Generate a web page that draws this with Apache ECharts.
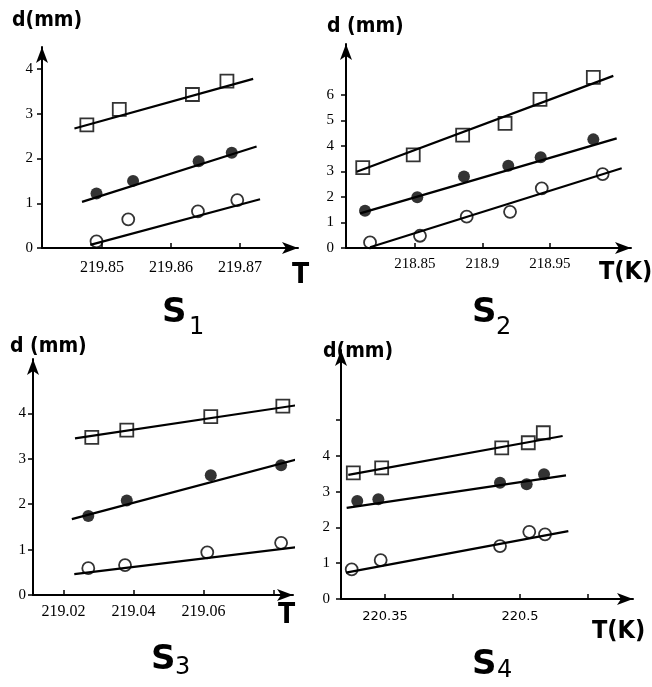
<!DOCTYPE html>
<html>
<head>
<meta charset="utf-8">
<script src="https://cdn.jsdelivr.net/npm/echarts@6.0.0/dist/echarts.min.js"></script>
<style>
  html, body { margin: 0; background: #fff; }
  #main { width: 652px; height: 687px; }
</style>
</head>
<body>
<div id="main"></div>
<script>
// values: [T (K), d (mm)]
// S1
const s1Squares = [[219.8478, 2.75], [219.8525, 3.10], [219.8631, 3.43], [219.8681, 3.73]]
const s1Filled = [[219.8492, 1.22], [219.8545, 1.50], [219.8640, 1.94], [219.8688, 2.13]]
const s1Open = [[219.8492, 0.15], [219.8538, 0.64], [219.8639, 0.82], [219.8696, 1.07]]
const s1SquareFit = [[219.8460, 2.67], [219.8719, 3.78]]
const s1FilledFit = [[219.8471, 1.03], [219.8724, 2.27]]
const s1OpenFit = [[219.8483, 0.07], [219.8729, 1.09]]
const s1TTicks = ['219.85', '219.86', '219.87']
const s1TLabels = ['219.85', '219.86', '219.87']
const s1DTicks = ['0', '1', '2', '3', '4']
const s1DLabels = ['0', '1', '2', '3', '4']

// S2
const s2Squares = [[218.8113, 3.15], [218.8487, 3.65], [218.8853, 4.43], [218.9167, 4.89], [218.9426, 5.83], [218.9821, 6.69]]
const s2Filled = [[218.8130, 1.46], [218.8517, 1.99], [218.8863, 2.80], [218.9191, 3.23], [218.9431, 3.56], [218.9821, 4.26]]
const s2Open = [[218.8167, 0.22], [218.8537, 0.48], [218.8883, 1.23], [218.9204, 1.42], [218.9439, 2.34], [218.9890, 2.90]]
const s2SquareFit = [[218.8068, 2.99], [218.9969, 6.75]]
const s2FilledFit = [[218.8093, 1.36], [218.9994, 4.30]]
const s2OpenFit = [[218.8167, 0.03], [219.0031, 3.13]]
const s2TTicks = ['218.85', '218.9', '218.95']
const s2TLabels = ['218.85', '218.9', '218.95']
const s2DTicks = ['0', '1', '2', '3', '4', '5', '6']
const s2DLabels = ['0', '1', '2', '3', '4', '5', '6']

// S3
const s3Squares = [[219.0281, 3.47], [219.0381, 3.63], [219.0621, 3.93], [219.0827, 4.16]]
const s3Filled = [[219.0271, 1.74], [219.0381, 2.08], [219.0621, 2.64], [219.0822, 2.86]]
const s3Open = [[219.0271, 0.59], [219.0376, 0.66], [219.0611, 0.94], [219.0822, 1.15]]
const s3SquareFit = [[219.0233, 3.45], [219.0876, 4.19]]
const s3FilledFit = [[219.0224, 1.67], [219.0888, 3.03]]
const s3OpenFit = [[219.0231, 0.46], [219.0893, 1.08]]
const s3TTicks = ['219.02', '219.04', '219.06', '219.08']
const s3TLabels = ['219.02', '219.04', '219.06']
const s3DTicks = ['0', '1', '2', '3', '4']
const s3DLabels = ['0', '1', '2', '3', '4']

// S4
const s4Squares = [[220.3148, 3.53], [220.3463, 3.67], [220.4797, 4.23], [220.5092, 4.37], [220.5259, 4.65]]
const s4Filled = [[220.3192, 2.74], [220.3426, 2.79], [220.4778, 3.25], [220.5074, 3.21], [220.5267, 3.49]]
const s4Open = [[220.3130, 0.83], [220.3452, 1.09], [220.4778, 1.48], [220.5103, 1.88], [220.5278, 1.81]]
const s4SquareFit = [[220.3092, 3.47], [220.5474, 4.56]]
const s4FilledFit = [[220.3074, 2.55], [220.5511, 3.46]]
const s4OpenFit = [[220.3067, 0.74], [220.5537, 1.90]]
const s4TTicks = ['220.35', '220.425', '220.5', '220.575']
const s4TLabels = ['220.35', '220.5']
const s4DTicks = ['0', '1', '2', '3', '4', '5']
const s4DLabels = ['0', '1', '2', '3', '4']

const serif = '"Liberation Serif", "DejaVu Serif", serif'
const narrow = '"DejaVu Sans Condensed", "Liberation Sans Narrow", "DejaVu Sans", sans-serif'
const sans = '"DejaVu Sans", "Liberation Sans", sans-serif'

// one panel = one grid + one pair of axes
const panels = [
  { box: { left: 42, top: 47, width: 256, height: 201 }, t: [219.8413, 219.8784], d: [0, 4.492],
    tTicks: s1TTicks, tLabels: s1TLabels, dTicks: s1DTicks, dLabels: s1DLabels, tFont: serif, tSize: 16, tMargin: 12, dMargin: 9 },
  { box: { left: 346, top: 44, width: 285, height: 204 }, t: [218.7989, 219.01], d: [0, 8.0],
    tTicks: s2TTicks, tLabels: s2TLabels, dTicks: s2DTicks, dLabels: s2DLabels, tFont: serif, tSize: 15, tMargin: 9, dMargin: 12 },
  { box: { left: 33, top: 359, width: 260, height: 236 }, t: [219.0113, 219.0856], d: [0, 5.198],
    tTicks: s3TTicks, tLabels: s3TLabels, dTicks: s3DTicks, dLabels: s3DLabels, tFont: serif, tSize: 16, tMargin: 9, dMargin: 7 },
  { box: { left: 341, top: 350, width: 292, height: 249 }, t: [220.30111, 220.62556], d: [0, 6.965],
    tTicks: s4TTicks, tLabels: s4TLabels, dTicks: s4DTicks, dLabels: s4DLabels, tFont: sans, tSize: 13, tMargin: 11, dMargin: 11 }
]

const seriesData = [
  [s1Squares, s1Filled, s1Open, s1SquareFit, s1FilledFit, s1OpenFit],
  [s2Squares, s2Filled, s2Open, s2SquareFit, s2FilledFit, s2OpenFit],
  [s3Squares, s3Filled, s3Open, s3SquareFit, s3FilledFit, s3OpenFit],
  [s4Squares, s4Filled, s4Open, s4SquareFit, s4FilledFit, s4OpenFit]
]

const axisLineStyle = { color: '#000', width: 2 }

const grid = panels.map(p => p.box)
const xAxis = panels.map((p, i) => ({
  gridIndex: i,
  type: 'value',
  min: p.t[0],
  max: p.t[1],
  splitLine: { show: false },
  axisLine: { onZero: false, symbol: ['none', 'arrow'], symbolSize: [9, 16], lineStyle: axisLineStyle },
  axisTick: { inside: true, length: 5, customValues: p.tTicks.map(Number), lineStyle: { color: '#000', width: 1.5 } },
  axisLabel: {
    customValues: p.tLabels.map(Number),
    formatter: v => p.tLabels.find(s => Math.abs(Number(s) - v) < 1e-6) || '',
    color: '#000', fontFamily: p.tFont, fontSize: p.tSize, margin: p.tMargin
  }
}))
const yAxis = panels.map((p, i) => ({
  gridIndex: i,
  type: 'value',
  min: p.d[0],
  max: p.d[1],
  splitLine: { show: false },
  axisLine: { onZero: false, symbol: ['none', 'arrow'], symbolSize: [9, 16], lineStyle: axisLineStyle },
  axisTick: { inside: false, length: 5, customValues: p.dTicks.map(Number), lineStyle: { color: '#000', width: 1.5 } },
  axisLabel: {
    customValues: p.dLabels.map(Number),
    formatter: v => p.dLabels.find(s => Math.abs(Number(s) - v) < 1e-6) || '',
    color: '#000', fontFamily: serif, fontSize: 15, margin: p.dMargin
  }
}))

const series = []
seriesData.forEach((set, i) => {
  // fitted lines first so the markers sit on top
  set.slice(3).forEach(fit => {
    series.push({
      type: 'line', xAxisIndex: i, yAxisIndex: i, data: fit,
      showSymbol: false, clip: false, silent: true,
      lineStyle: { color: '#000', width: 2.2 }
    })
  })
  series.push({
    type: 'scatter', xAxisIndex: i, yAxisIndex: i, data: set[0],
    symbol: 'rect', symbolSize: 13, z: 3,
    itemStyle: { color: 'rgba(255,255,255,0)', borderColor: '#000', borderWidth: 1.8 }
  })
  series.push({
    type: 'scatter', xAxisIndex: i, yAxisIndex: i, data: set[1],
    symbol: 'circle', symbolSize: 12, z: 3,
    itemStyle: { color: '#000' }
  })
  series.push({
    type: 'scatter', xAxisIndex: i, yAxisIndex: i, data: set[2],
    symbol: 'circle', symbolSize: 12, z: 3,
    itemStyle: { color: 'rgba(255,255,255,0)', borderColor: '#000', borderWidth: 1.8 }
  })
})

function txt (text, x, y, font) {
  return { type: 'text', x: x, y: y, style: { text: text, font: font, fill: '#000', textAlign: 'left', textVerticalAlign: 'middle' } }
}

const dFont = 'bold 21px ' + narrow
const tFont = 'bold 28px ' + narrow
const tkFont = 'bold 25px ' + narrow
const sFont = 'bold 34px ' + sans
const subFont = '24px ' + sans

const graphic = [
  // axis names
  txt('d(mm)', 12, 21, dFont),
  txt('d (mm)', 327, 27, dFont),
  txt('d (mm)', 10, 347, dFont),
  txt('d(mm)', 323, 352, dFont),
  txt('T', 292, 276, tFont),
  txt('T(K)', 599, 272, tkFont),
  txt('T', 278, 616, tFont),
  txt('T(K)', 592, 631, tkFont),
  // panel titles
  txt('S', 162, 313, sFont), txt('1', 189, 328, subFont),
  txt('S', 472, 313, sFont), txt('2', 496, 328, subFont),
  txt('S', 151, 660, sFont), txt('3', 175, 668, subFont),
  txt('S', 472, 665, sFont), txt('4', 497, 671, subFont)
]

var myChart = echarts.init(document.getElementById('main'))
myChart.setOption({
  animation: false,
  backgroundColor: '#fff',
  grid: grid,
  xAxis: xAxis,
  yAxis: yAxis,
  series: series,
  graphic: graphic
})
</script>
</body>
</html>
